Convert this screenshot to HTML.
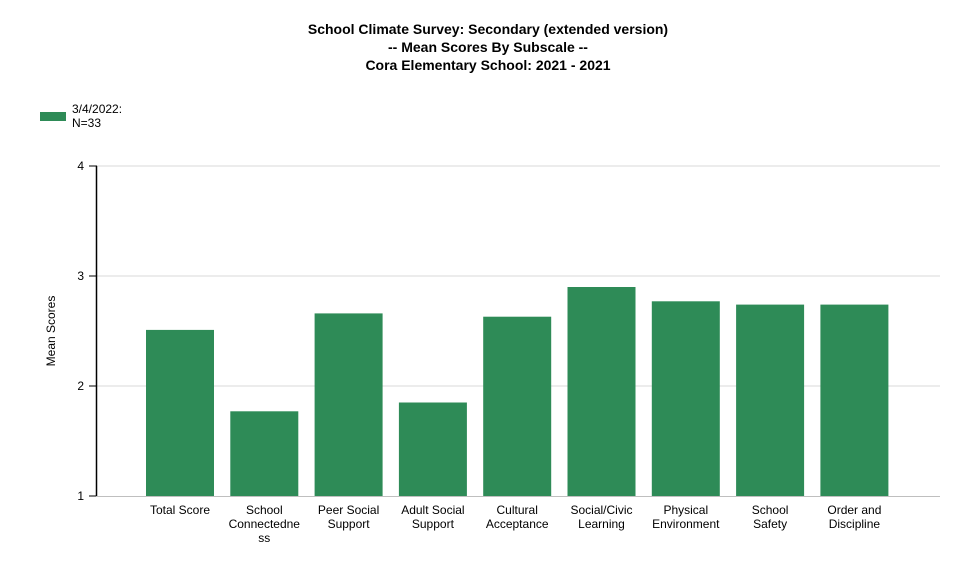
<!DOCTYPE html>
<html><head><meta charset="utf-8"><style>
body{margin:0;background:#fff;font-family:"Liberation Sans",Arial,sans-serif}
</style></head><body>
<svg width="977" height="575" xmlns="http://www.w3.org/2000/svg" font-family="Liberation Sans, Arial, sans-serif">
<g font-weight="bold" font-size="14" text-anchor="middle" fill="#000">
<text x="488" y="34">School Climate Survey: Secondary (extended version)</text>
<text x="488" y="52">-- Mean Scores By Subscale --</text>
<text x="488" y="70">Cora Elementary School: 2021 - 2021</text>
</g>
<g>
<rect x="40" y="112" width="26" height="9" fill="#2e8b57"/>
<text x="72" y="113" font-size="12">3/4/2022:</text>
<text x="72" y="127" font-size="12">N=33</text>
</g>
<text font-size="12" transform="translate(55,331) rotate(-90)" text-anchor="middle">Mean Scores</text>
<g id="grid"></g><g id="bars"></g><g id="axes"></g>
</svg>
<script>
const categories=[["Total Score"],["School","Connectedne","ss"],["Peer Social","Support"],["Adult Social","Support"],["Cultural","Acceptance"],["Social/Civic","Learning"],["Physical","Environment"],["School","Safety"],["Order and","Discipline"]];
const values=[2.51,1.77,2.66,1.85,2.63,2.90,2.77,2.74,2.74];
const ticks=[1,2,3,4];
const NS="http://www.w3.org/2000/svg";
const y=v=>496-(v-1)*110;
const xc=i=>180+i*84.3;
function mk(t,a,p){const e=document.createElementNS(NS,t);for(const k in a)e.setAttribute(k,a[k]);p.appendChild(e);return e;}
const grid=document.getElementById('grid'),bars=document.getElementById('bars'),axes=document.getElementById('axes');
ticks.forEach(t=>{
 if(t>1){const g=mk('line',{x1:97,x2:940,y1:y(t),y2:y(t),stroke:'#d9d9d9','stroke-width':1},grid);
 
 }
 const tk=mk('line',{x1:89,x2:97,y1:y(t),y2:y(t),stroke:'#000'},axes);
 
 
 const l=mk('text',{x:84,y:y(t)+4,'text-anchor':'end','font-size':12},axes);l.textContent=t;
 
 
});
const ya=mk('line',{x1:96.5,x2:96.5,y1:y(4),y2:y(1),stroke:'#000','stroke-width':1.5},axes);


const xa=mk('line',{x1:96,x2:940,y1:496.5,y2:496.5,stroke:'#bfbfbf'},axes);


values.forEach((v,i)=>{
 const r=mk('rect',{x:xc(i)-34,y:y(v),width:68,height:y(1)-y(v),fill:'#2e8b57'},bars);
 
 
 const t=mk('text',{x:xc(i),'text-anchor':'middle','font-size':12},axes);
 
 
 categories[i].forEach((s,j)=>{const ts=mk('tspan',{x:xc(i),y:514+j*14},t);ts.textContent=s;});
});
</script>
</body></html>
